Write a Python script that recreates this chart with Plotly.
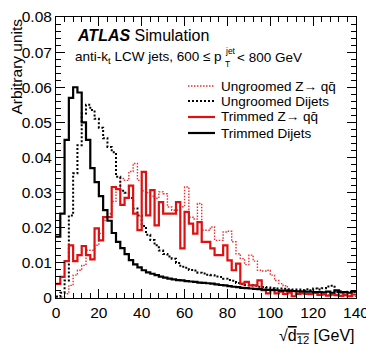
import plotly.graph_objects as go

# bin edges of the sqrt(d12) histograms, GeV
bin_edges = list(range(0, 142, 2))

ungroomed_z = [
    0.0, 0.0003, 0.0012, 0.0036, 0.0065, 0.0079, 0.0093, 0.0136, 0.0136, 0.015,
    0.0184, 0.0221, 0.024, 0.0275, 0.031, 0.034, 0.0335, 0.036, 0.0383, 0.0335,
    0.0305, 0.030, 0.029, 0.0284, 0.0302, 0.0297, 0.0259, 0.025, 0.025, 0.026,
    0.0316, 0.023, 0.0225, 0.0269, 0.0193, 0.0193, 0.0202, 0.0164, 0.0164, 0.0188,
    0.019, 0.016, 0.0126, 0.0112, 0.0095, 0.0122, 0.0105, 0.0079, 0.0077, 0.0079,
    0.0065, 0.005, 0.0041, 0.0035, 0.0022, 0.0018, 0.0015, 0.0014, 0.0013, 0.0012,
    0.0014, 0.0011, 0.0010, 0.0009, 0.0008, 0.0010, 0.0007, 0.0006, 0.0007, 0.0005,
]
ungroomed_dijets = [
    0.0004, 0.0015, 0.005, 0.0235, 0.0355, 0.0435, 0.0525, 0.055, 0.0535, 0.051,
    0.0485, 0.0455, 0.043, 0.0415, 0.0345, 0.0305, 0.030, 0.0285, 0.0255, 0.0235,
    0.0205, 0.018, 0.0165, 0.015, 0.0135, 0.0125, 0.0118, 0.0112, 0.010, 0.0089,
    0.0086, 0.0080, 0.0078, 0.0072, 0.0070, 0.0066, 0.0065, 0.0061, 0.0060, 0.0055,
    0.0051, 0.0049, 0.0043, 0.0040, 0.0037, 0.0036, 0.0035, 0.0032, 0.0031, 0.0030,
    0.0028, 0.0027, 0.0027, 0.0026, 0.0025, 0.0024, 0.0024, 0.0023, 0.0025, 0.0022,
    0.0027, 0.0024, 0.0028, 0.0033, 0.0035, 0.0017, 0.0019, 0.0016, 0.0018, 0.0017,
]
trimmed_z = [
    0.004, 0.006, 0.0105, 0.015, 0.0105, 0.0122, 0.0148, 0.0122, 0.011, 0.0198,
    0.0164, 0.023, 0.023, 0.0316, 0.031, 0.0265, 0.0285, 0.032, 0.024, 0.0193,
    0.0359, 0.0235, 0.0307, 0.0207, 0.0273, 0.024, 0.024, 0.024, 0.0273, 0.0141,
    0.0245, 0.0212, 0.0183, 0.0216, 0.016, 0.016, 0.0141, 0.0122, 0.0122, 0.015,
    0.0107, 0.0079, 0.0098, 0.0041, 0.0046, 0.0036, 0.0036, 0.005, 0.0022, 0.0013,
    0.0022, 0.0013, 0.0018, 0.0012, 0.0015, 0.0005, 0.0012, 0.0013, 0.0012, 0.0011,
    0.0015, 0.0009, 0.0010, 0.0007, 0.0010, 0.0008, 0.0006, 0.0009, 0.0005, 0.0010,
]
trimmed_dijets = [
    0.0175, 0.024, 0.045, 0.057, 0.060, 0.0585, 0.050, 0.045, 0.037, 0.033,
    0.029, 0.025, 0.022, 0.0185, 0.016, 0.0142, 0.0125, 0.0108, 0.0096, 0.0087,
    0.0079, 0.0073, 0.0069, 0.0065, 0.0061, 0.0058, 0.0055, 0.0053, 0.0051, 0.0050,
    0.0048, 0.0047, 0.0046, 0.0044, 0.0043, 0.0042, 0.0041, 0.0039, 0.0037, 0.0036,
    0.0034, 0.0032, 0.0031, 0.0029, 0.0028, 0.0027, 0.0026, 0.0025, 0.0024, 0.0023,
    0.0023, 0.0022, 0.0021, 0.0021, 0.0020, 0.0020, 0.0019, 0.0019, 0.0018, 0.0018,
    0.0017, 0.0017, 0.0016, 0.0018, 0.0015, 0.0022, 0.0016, 0.0017, 0.0015, 0.0019,
]

RED = "#DD1111"
RED_LIGHT = "#E83030"
BLACK = "#000000"
FONT = "Liberation Sans, Arial, sans-serif"
QQBAR = "qq\u0304"

series = [
    ("Ungroomed Z\u2192 " + QQBAR, ungroomed_z, RED_LIGHT, "1.5px,1.5px", 1.4),
    ("Ungroomed Dijets", ungroomed_dijets, BLACK, "2px,2px", 2.0),
    ("Trimmed Z\u2192 " + QQBAR, trimmed_z, RED, "solid", 2.2),
    ("Trimmed Dijets", trimmed_dijets, BLACK, "solid", 2.2),
]

# the page body keeps its default 8px margin, so the figure is drawn 8px in
OFF = 8
W, H = 374 - OFF, 355 - OFF
# plot area in window pixels
PL, PT, PW, PH = 56, 17, 300, 281


def fx(p):
    return (p - PL) / PW


def fy(p):
    return (PT + PH - p) / PH


def note(text, x, y, size, xanchor="left", **kw):
    fig.add_annotation(text=text, xref="paper", yref="paper", x=fx(x), y=fy(y),
                       xanchor=xanchor, yanchor="middle", showarrow=False,
                       borderpad=0, font=dict(size=size, color=BLACK), **kw)


fig = go.Figure()
for name, vals, color, dash, width in series:
    fig.add_trace(go.Scatter(
        x=bin_edges,
        y=vals + vals[-1:],
        mode="lines",
        line=dict(shape="hv", color=color, dash=dash, width=width),
        name=name,
        showlegend=False,
    ))

# hand-made legend, ROOT style
legend_rows = [86, 101, 117, 133]
for (name, vals, color, dash, width), row in zip(series, legend_rows):
    fig.add_shape(type="line", xref="paper", yref="paper",
                  x0=fx(188), x1=fx(215), y0=fy(row), y1=fy(row),
                  line=dict(color=color, dash=dash, width=width))
    note(name, 220, row, 13.5)

note("<b><i>ATLAS</i></b> Simulation", 76, 35, 16)
note("anti-k<sub>t</sub> LCW jets, 600 \u2264 p", 74, 58, 13.5)
note("jet", 224, 51, 8.5)
note("T", 224, 64, 8.5)
note("< 800 GeV", 236, 58, 13.5)

# axis titles
note("Arbitrary units", 16.5, 67, 15.5, xanchor="center", textangle=-90)
note("\u221a<span style='text-decoration:overline'>d</span>"
     "<sub><span style='text-decoration:overline'>12</span></sub> [GeV]",
     356, 337, 16, xanchor="right")

axis_common = dict(
    showgrid=False, zeroline=False, showline=True, linecolor=BLACK, linewidth=1,
    mirror="ticks", ticks="inside", ticklen=9, tickwidth=1, tickcolor=BLACK,
    tickfont=dict(size=15.5, color=BLACK), automargin=False,
)
fig.update_xaxes(range=[0, 140], tick0=0, dtick=20,
                 minor=dict(dtick=4, ticks="inside", ticklen=5, tickcolor=BLACK, showgrid=False),
                 **axis_common)
fig.update_yaxes(range=[0, 0.08], tick0=0, dtick=0.01,
                 minor=dict(dtick=0.002, ticks="inside", ticklen=5, tickcolor=BLACK, showgrid=False),
                 **axis_common)

fig.update_layout(
    width=W, height=H,
    margin=dict(l=PL - OFF, r=W - (PL - OFF) - PW, t=PT - OFF, b=H - (PT - OFF) - PH),
    paper_bgcolor="white", plot_bgcolor="white",
    font=dict(family=FONT, color=BLACK),
    showlegend=False,
)
fig.write_html("out.html")
